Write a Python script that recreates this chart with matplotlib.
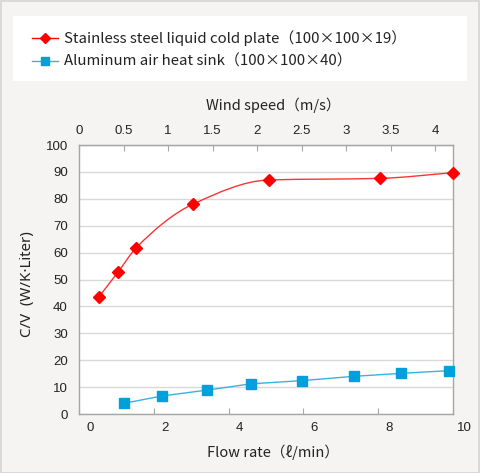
import matplotlib
matplotlib.use("Agg")
import matplotlib.pyplot as plt
import numpy as np
from matplotlib.lines import Line2D
from matplotlib.patches import Rectangle
from matplotlib.path import Path
from matplotlib.patches import PathPatch
import matplotlib.transforms as mtransforms

# ---- data ----
red_label = "Stainless steel liquid cold plate（100×100×19）"
blue_label = "Aluminum air heat sink（100×100×40）"
red_x = [0.53, 1.05, 1.53, 3.06, 5.08, 8.05, 10.0]
red_y = [43.5, 52.9, 61.8, 78.1, 87.0, 87.6, 89.7]
blue_x = [1.21, 2.22, 3.43, 4.59, 5.95, 7.35, 8.60, 9.88]
blue_y = [4.0, 6.7, 8.9, 11.2, 12.4, 14.0, 15.1, 16.1]
x_ticks = [0, 2, 4, 6, 8, 10]
y_ticks = [0, 10, 20, 30, 40, 50, 60, 70, 80, 90, 100]
top_ticks = [0, 0.5, 1, 1.5, 2, 2.5, 3, 3.5, 4]
wind_per_flow = 0.42

W, H = 480, 473
fig = plt.figure(figsize=(W / 100, H / 100), dpi=100)
fig.patch.set_facecolor("#f5f4f2")

def fx(px):
    return px / W

def fy(py):
    return 1 - py / H

# border
fig.patches.append(Rectangle((0.5 / W, 0.5 / H), 1 - 1.5 / W, 1 - 1.5 / H,
                             transform=fig.transFigure, facecolor="none",
                             edgecolor="#d4d4d4", lw=1.2, zorder=0))
# legend box
fig.patches.append(Rectangle((fx(13), fy(80.5)), fx(467) - fx(13), fy(16) - fy(80.5),
                             transform=fig.transFigure, facecolor="white",
                             edgecolor="none", zorder=1))

txt_font = ["Noto Sans CJK JP", "DejaVu Sans"]
num_font = ["Liberation Sans", "DejaVu Sans"]
gray = "#a6a6a6"

ax = fig.add_axes([fx(79), fy(414), fx(453) - fx(79), fy(145) - fy(414)])
ax.set_facecolor("white")
ax.set_xlim(0, 10)
ax.set_ylim(0, 100)
for s in ax.spines.values():
    s.set_color(gray)
    s.set_linewidth(1.0)
ax.set_yticks(y_ticks)
ax.set_xticks(x_ticks)
ax.grid(axis="y", color="#d9d9d9", lw=1.0)
ax.set_axisbelow(True)
ax.tick_params(axis="y", length=0, pad=8, labelsize=9.5, labelcolor="#222222")
ax.tick_params(axis="x", direction="in", length=4.5, color=gray, pad=6,
               labelsize=9.5, labelcolor="#222222")
for lab in ax.get_xticklabels() + ax.get_yticklabels():
    lab.set_family(num_font)
offset = mtransforms.ScaledTranslation(11 / 100, 0, fig.dpi_scale_trans)
for lab in ax.get_xticklabels():
    lab.set_transform(lab.get_transform() + offset)

sec = ax.secondary_xaxis("top", functions=(lambda x: x * wind_per_flow,
                                           lambda x: x / wind_per_flow))
sec.set_xticks(top_ticks)
sec.set_xticklabels([f"{t:g}" for t in top_ticks])
sec.tick_params(axis="x", direction="in", length=4.5, color=gray, pad=6,
                labelsize=9.5, labelcolor="#222222")
sec.spines["top"].set_color(gray)
for lab in sec.get_xticklabels():
    lab.set_family(num_font)

# red smoothed curve: monotone cubic (Fritsch-Carlson) drawn as Bezier segments
xs = np.asarray(red_x, float)
ys = np.asarray(red_y, float)
h = np.diff(xs)
d = np.diff(ys) / h
m = np.zeros_like(xs)
m[0], m[-1] = d[0], d[-1]
for i in range(1, len(xs) - 1):
    if d[i - 1] * d[i] <= 0:
        m[i] = 0
    else:
        w1 = 2 * h[i] + h[i - 1]
        w2 = h[i] + 2 * h[i - 1]
        m[i] = (w1 + w2) / (w1 / d[i - 1] + w2 / d[i])
verts = [(xs[0], ys[0])]
codes = [Path.MOVETO]
for i in range(len(xs) - 1):
    verts += [(xs[i] + h[i] / 3, ys[i] + m[i] * h[i] / 3),
              (xs[i + 1] - h[i] / 3, ys[i + 1] - m[i + 1] * h[i] / 3),
              (xs[i + 1], ys[i + 1])]
    codes += [Path.CURVE4] * 3
ax.add_patch(PathPatch(Path(verts, codes), facecolor="none", edgecolor="#ff3333",
                       lw=1.0, zorder=3, clip_on=False))
ax.plot(red_x, red_y, linestyle="none", marker="D", ms=6.5, color="#ff0000",
        mec="#ff0000", zorder=4, clip_on=False)

ax.plot(blue_x, blue_y, color="#3cb0e0", lw=1.0, marker="s", ms=7.5,
        mfc="#00a0dc", mec="#00a0dc", zorder=4, clip_on=False)

# labels
fig.text(fx(273), fy(105), "Wind speed（m/s）", ha="center", va="center",
         fontsize=10.5, family=txt_font, color="#222222")
fig.text(fx(273), fy(452), "Flow rate（ℓ/min）", ha="center", va="center",
         fontsize=10.5, family=txt_font, color="#222222")
fig.text(fx(28), fy(284), "C/V  (W/K·Liter)", ha="center", va="center",
         rotation=90, fontsize=10.8, family=["Noto Sans", "DejaVu Sans"], color="#222222")

# legend
fig.lines.append(Line2D([fx(32), fx(58)], [fy(38), fy(38)], color="#ff0000", lw=1.0,
                        transform=fig.transFigure, zorder=5))
fig.lines.append(Line2D([fx(45)], [fy(38)], color="#ff0000", marker="D", ms=5.5,
                        linestyle="none", transform=fig.transFigure, zorder=6))
fig.lines.append(Line2D([fx(32), fx(58)], [fy(61), fy(61)], color="#3cb0e0", lw=1.0,
                        transform=fig.transFigure, zorder=5))
fig.lines.append(Line2D([fx(45)], [fy(61)], color="#00a0dc", marker="s", ms=5.5,
                        linestyle="none", transform=fig.transFigure, zorder=6))
fig.text(fx(64), fy(38), red_label, ha="left", va="center", fontsize=10.8,
         family=txt_font, color="#222222")
fig.text(fx(64), fy(61), blue_label, ha="left", va="center", fontsize=10.8,
         family=txt_font, color="#222222")

fig.savefig("out.png", dpi=100, facecolor=fig.get_facecolor())
